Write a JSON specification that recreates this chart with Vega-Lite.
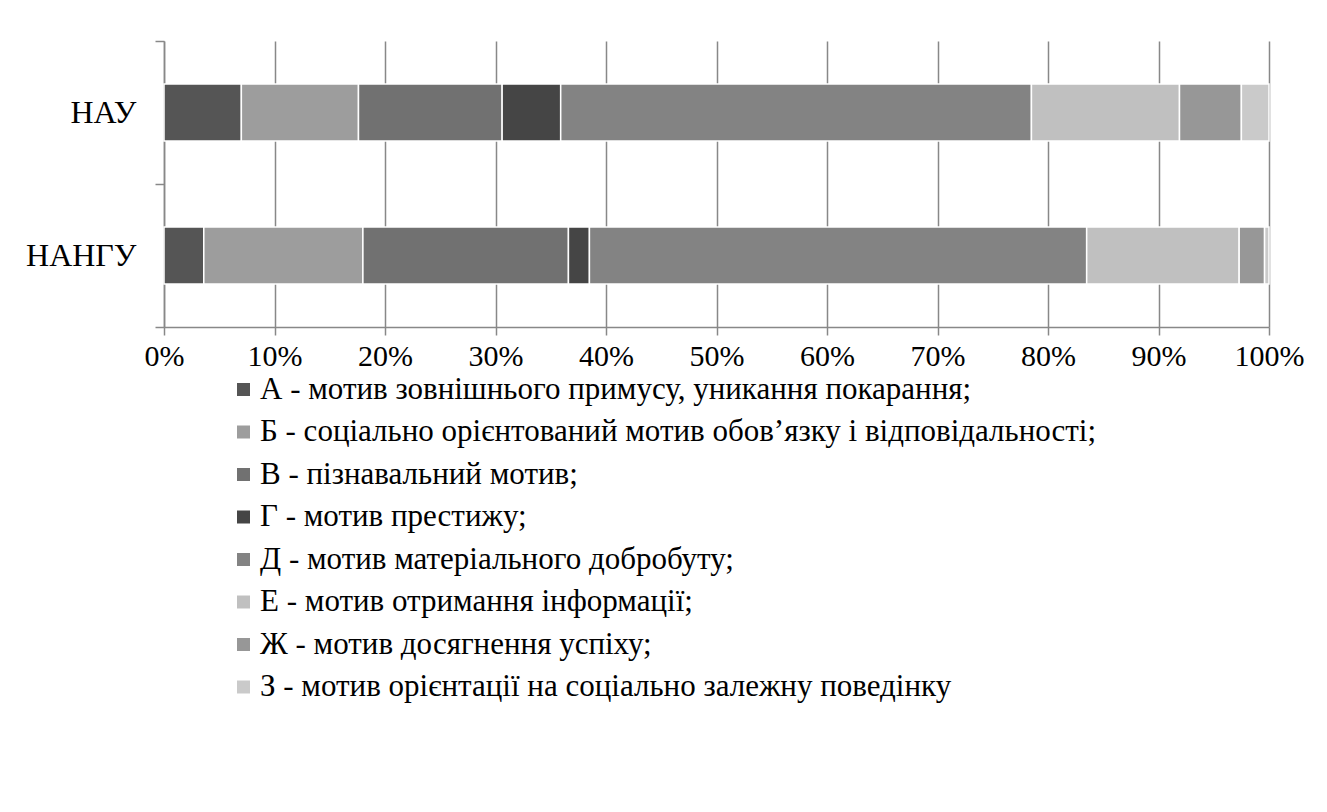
{
  "$schema": "https://vega.github.io/schema/vega-lite/v6.json",
  "width": 1105,
  "height": 286,
  "autosize": {"type": "none"},
  "padding": {"left": 164, "top": 41, "right": 58, "bottom": 485},
  "background": "white",
  "config": {"view": {"stroke": null}, "font": "Liberation Serif"},
  "data": {
    "values": [
      {"group": "НАУ", "k": 1, "motive": "А - мотив зовнішнього примусу, уникання покарання;", "value": 7.0},
      {"group": "НАУ", "k": 2, "motive": "Б - соціально орієнтований мотив обов’язку і відповідальності;", "value": 10.6},
      {"group": "НАУ", "k": 3, "motive": "В - пізнавальний мотив;", "value": 13.0},
      {"group": "НАУ", "k": 4, "motive": "Г - мотив престижу;", "value": 5.3},
      {"group": "НАУ", "k": 5, "motive": "Д - мотив матеріального добробуту;", "value": 42.6},
      {"group": "НАУ", "k": 6, "motive": "Е - мотив отримання інформації;", "value": 13.4},
      {"group": "НАУ", "k": 7, "motive": "Ж - мотив досягнення успіху;", "value": 5.6},
      {"group": "НАУ", "k": 8, "motive": "З - мотив орієнтації на соціально залежну поведінку", "value": 2.5},
      {"group": "НАНГУ", "k": 1, "motive": "А - мотив зовнішнього примусу, уникання покарання;", "value": 3.6},
      {"group": "НАНГУ", "k": 2, "motive": "Б - соціально орієнтований мотив обов’язку і відповідальності;", "value": 14.4},
      {"group": "НАНГУ", "k": 3, "motive": "В - пізнавальний мотив;", "value": 18.6},
      {"group": "НАНГУ", "k": 4, "motive": "Г - мотив престижу;", "value": 1.9},
      {"group": "НАНГУ", "k": 5, "motive": "Д - мотив матеріального добробуту;", "value": 45.0},
      {"group": "НАНГУ", "k": 6, "motive": "Е - мотив отримання інформації;", "value": 13.8},
      {"group": "НАНГУ", "k": 7, "motive": "Ж - мотив досягнення успіху;", "value": 2.3},
      {"group": "НАНГУ", "k": 8, "motive": "З - мотив орієнтації на соціально залежну поведінку", "value": 0.4}
    ]
  },
  "mark": {"type": "bar", "stroke": "white", "strokeWidth": 1.5, "height": {"band": 0.4}},
  "encoding": {
    "y": {
      "field": "group",
      "type": "nominal",
      "sort": ["НАУ", "НАНГУ"],
      "scale": {"paddingInner": 0, "paddingOuter": 0},
      "axis": {
        "title": null,
        "tickBand": "extent",
        "labelFontSize": 32,
        "labelFont": "Liberation Serif",
        "labelColor": "black",
        "labelPadding": 19,
        "domainColor": "#888888",
        "domainWidth": 1.5,
        "tickColor": "#888888",
        "tickWidth": 1.5,
        "tickSize": 9,
        "grid": false
      }
    },
    "x": {
      "field": "value",
      "type": "quantitative",
      "stack": "zero",
      "scale": {"domain": [0, 100], "nice": false},
      "axis": {
        "title": null,
        "values": [0, 10, 20, 30, 40, 50, 60, 70, 80, 90, 100],
        "labelExpr": "datum.value + '%'",
        "labelFontSize": 30,
        "labelFont": "Liberation Serif",
        "labelColor": "black",
        "labelPadding": 6,
        "labelFlush": false,
        "labelOverlap": false,
        "grid": true,
        "gridColor": "#888888",
        "gridWidth": 1.5,
        "domainColor": "#888888",
        "domainWidth": 1.5,
        "tickColor": "#888888",
        "tickWidth": 1.5,
        "tickSize": 8
      }
    },
    "color": {
      "field": "motive",
      "type": "nominal",
      "sort": null,
      "scale": {
        "domain": [
          "А - мотив зовнішнього примусу, уникання покарання;",
          "Б - соціально орієнтований мотив обов’язку і відповідальності;",
          "В - пізнавальний мотив;",
          "Г - мотив престижу;",
          "Д - мотив матеріального добробуту;",
          "Е - мотив отримання інформації;",
          "Ж - мотив досягнення успіху;",
          "З - мотив орієнтації на соціально залежну поведінку"
        ],
        "range": ["#555555", "#9d9d9d", "#717171", "#454545", "#838383", "#c0c0c0", "#979797", "#cacaca"]
      },
      "legend": {
        "title": null,
        "orient": "none",
        "legendX": 64,
        "legendY": 333,
        "direction": "vertical",
        "padding": 0,
        "symbolType": "square",
        "symbolSize": 169,
        "symbolStrokeWidth": 0,
        "labelFontSize": 31,
        "labelFont": "Liberation Serif",
        "labelColor": "black",
        "labelLimit": 0,
        "labelOffset": 1,
        "rowPadding": 10.5
      }
    },
    "order": {"field": "k", "type": "quantitative"}
  }
}
